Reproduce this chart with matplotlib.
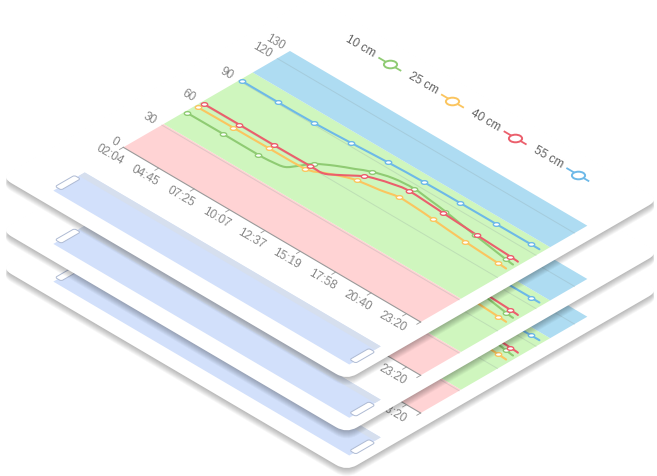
import matplotlib
matplotlib.use("Agg")
import matplotlib.pyplot as plt
from matplotlib.patches import FancyBboxPatch, PathPatch, Rectangle
from matplotlib.path import Path
from matplotlib.transforms import Affine2D

# ----- Data -----
time_labels = ["02:04", "04:45", "07:25", "10:07", "12:37", "15:19", "17:58", "20:40", "23:20"]
y_ticks = [0, 30, 60, 90, 120, 130]
grid_values = [30, 60, 90, 120]
band_limits = [0, 31.5, 101, 130]
legend_labels = ["10 cm", "25 cm", "40 cm", "55 cm"]

marker_x = [0.07, 1.07, 2.07, 3.07, 4.07, 5.07, 6.07, 7.07, 8.07]
green_marks = [48.1, 48.2, 48.1, 63.8, 81.3, 86.7, 83.7, 79.5, 75.5]
yellow_marks = [56.1, 56.4, 56.6, 57.2, 69.7, 75.0, 73.6, 71.3, 69.8]
red_marks = [60.7, 60.8, 60.7, 61.0, 75.2, 83.2, 81.8, 80.3, 79.1]
blue_marks = [91.0, 91.0, 91.3, 92.5, 94.0, 94.9, 95.2, 95.3, 95.4]

green_line_x = [0.07, 1.07, 2.07, 2.43, 2.74, 2.90, 3.07, 3.41, 3.77, 4.07, 4.53, 5.07, 5.57, 6.07, 6.56, 7.07, 8.07, 8.3]
green_line_y = [48.1, 48.2, 48.1, 48.7, 50.4, 56.3, 63.8, 70.9, 76.6, 81.3, 85.4, 86.7, 85.3, 83.7, 81.5, 79.5, 75.5, 74.8]
yellow_line_x = [0.07, 1.07, 2.07, 3.07, 3.42, 3.76, 4.07, 4.63, 5.07, 5.59, 6.07, 7.07, 8.07, 8.3]
yellow_line_y = [56.1, 56.4, 56.6, 57.2, 61.6, 66.5, 69.7, 72.3, 75.0, 74.6, 73.6, 71.3, 69.8, 69.4]
red_line_x = [0.07, 1.07, 2.07, 3.07, 3.43, 3.68, 4.07, 4.32, 4.68, 5.07, 6.07, 7.07, 8.07, 8.3]
red_line_y = [60.7, 60.8, 60.7, 61.0, 61.2, 66.0, 75.2, 78.4, 81.4, 83.2, 81.8, 80.3, 79.1, 78.6]
blue_line_x = [0.07, 1.07, 2.07, 3.07, 4.07, 5.07, 6.07, 7.07, 8.07, 8.3]
blue_line_y = [91.0, 91.0, 91.3, 92.5, 94.0, 94.9, 95.2, 95.3, 95.4, 95.4]

card_shifts = [91.0, 53.3, 0.0]  # bottom card first

GREEN = "#8FCB73"
YELLOW = "#FBC55F"
RED = "#EB5F6C"
BLUE = "#6DB9E8"
band_colors = ["#FFD3D4", "#CFF6BE", "#AEDCF2"]
X_END = 8.4

# flattened circle used for the markers
iso_circle = Path.unit_circle().transformed(Affine2D.from_values(0.866, 0.5, 0.866, -0.5, 0, 0))


def smooth(xs, ys):
    # Catmull-Rom through the points, as a bezier path
    verts = [(xs[0], ys[0])]
    codes = [Path.MOVETO]
    n = len(xs)
    for i in range(n - 1):
        a = max(i - 1, 0)
        d = min(i + 2, n - 1)
        verts.append((xs[i] + (xs[i + 1] - xs[a]) / 6, ys[i] + (ys[i + 1] - ys[a]) / 6))
        verts.append((xs[i + 1] - (xs[d] - xs[i]) / 6, ys[i + 1] - (ys[d] - ys[i]) / 6))
        verts.append((xs[i + 1], ys[i + 1]))
        codes += [Path.CURVE4] * 3
    return Path(verts, codes)


fig = plt.figure(figsize=(6.57, 4.76), dpi=100)
ax = fig.add_axes([0, 0, 1, 1])
ax.set_xlim(0, 657)
ax.set_ylim(476, 0)
ax.axis("off")

series = [
    (green_line_x, green_line_y, green_marks, GREEN),
    (yellow_line_x, yellow_line_y, yellow_marks, YELLOW),
    (red_line_x, red_line_y, red_marks, RED),
    (blue_line_x, blue_line_y, blue_marks, BLUE),
]


def draw_card(shift, z):
    chart = Affine2D.from_values(35.4, 20.8, 1.282, -0.741, 123.3, 147.3 + shift) + ax.transData

    # ----- shadow + card -----
    card_box = dict(boxstyle="round,pad=0,rounding_size=0.3", mutation_aspect=27, ec="none")
    for k in range(8, 0, -1):
        down = Affine2D.from_values(35.4, 20.8, 1.282, -0.741, 123.3, 147.3 + shift + k) + ax.transData
        ax.add_patch(FancyBboxPatch((-1.0, -68), 9.77, 244, transform=down, fc="black",
                                    alpha=0.035, zorder=z, **card_box))
    ax.add_patch(FancyBboxPatch((-1.0, -68), 9.77, 244, transform=chart, fc="white", zorder=z + 0.1, **card_box))

    # ----- bands and grid -----
    for i in range(3):
        ax.add_patch(Rectangle((0, band_limits[i]), X_END, band_limits[i + 1] - band_limits[i],
                               transform=chart, fc=band_colors[i], ec="none", zorder=z + 0.2))
    for v in grid_values:
        ax.plot([0, X_END], [v, v], transform=chart, color="#8a9a9a", alpha=0.25, lw=0.7, zorder=z + 0.3)

    # ----- axes -----
    ax.plot([0, X_END], [0, 0], transform=chart, color="#999999", lw=0.8, zorder=z + 0.3)
    for i, lab in enumerate(time_labels):
        ax.plot([i, i], [0, -3], transform=chart, color="#999999", lw=0.6, zorder=z + 0.3)
        ax.text(i, -10.5, lab, transform=chart, rotation=-30, rotation_mode="anchor", ha="center", va="center",
                fontsize=8.5, color="#858585", family="Liberation Sans", zorder=z + 0.3)
    ax.plot([X_END, X_END], [0, -3], transform=chart, color="#999999", lw=0.6, zorder=z + 0.3)
    for v in y_ticks:
        ax.text(-0.17, v, str(v), transform=chart, rotation=-30, rotation_mode="anchor", ha="right", va="center",
                fontsize=8.5, color="#858585", family="Liberation Sans", zorder=z + 0.3)

    # ----- series -----
    for xs, ys, marks, col in series:
        ax.add_patch(PathPatch(smooth(xs, ys), transform=chart, fc="none", ec=col, lw=1.5,
                               capstyle="round", zorder=z + 0.4))
        ax.plot(marker_x, marks, ls="none", marker=iso_circle, ms=4.6, mfc="white", mec=col, mew=1.0,
                transform=chart, zorder=z + 0.5)

    # ----- legend -----
    for i, (lab, (_, _, _, col)) in enumerate(zip(legend_labels, series)):
        lx = 1.72 + 1.77 * i
        ax.plot([lx - 0.3, lx + 0.3], [160.4, 160.4], transform=chart, color=col, lw=1.3, zorder=z + 0.4)
        ax.plot([lx], [160.4], ls="none", marker=iso_circle, ms=9.5, mfc="white", mec=col, mew=1.4,
                transform=chart, zorder=z + 0.5)
        ax.text(lx - 0.83, 160.4, lab, transform=chart, rotation=-30, rotation_mode="anchor", ha="center",
                va="center", fontsize=8.5, color="#606060", family="Liberation Sans", zorder=z + 0.5)

    # ----- slider -----
    ax.add_patch(Rectangle((0.07, -56.5), X_END - 0.04, 24.5, transform=chart, fc="#D2E0FB", ec="none", zorder=z + 0.2))
    ax.add_patch(Rectangle((0.07, -36.5), X_END - 0.04, 4.5, transform=chart, fc="#D6DFEE", ec="none", zorder=z + 0.25))
    for hx in [0.08, X_END]:
        ax.add_patch(FancyBboxPatch((hx - 0.085, -53), 0.17, 15, boxstyle="round,pad=0,rounding_size=0.05",
                                    mutation_aspect=27, transform=chart, fc="white", ec="#AEBAD3", lw=0.7,
                                    zorder=z + 0.6))


for n, s in enumerate(card_shifts):
    draw_card(s, 10 * (n + 1))

fig.savefig("out.png", dpi=100)
